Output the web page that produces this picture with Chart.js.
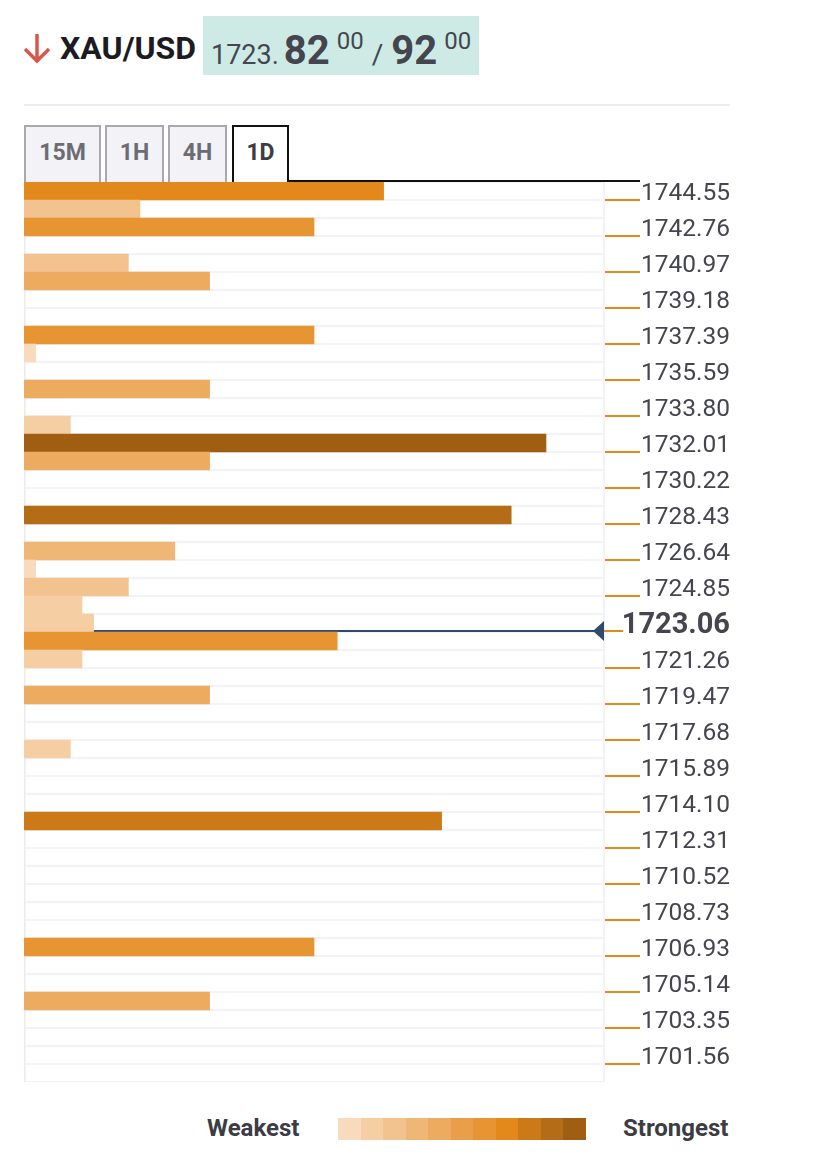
<!DOCTYPE html>
<html>
<head>
<meta charset="utf-8">
<script src="https://cdn.jsdelivr.net/npm/chart.js@4.4.0/dist/chart.umd.min.js"></script>
<style>
  body { margin: 0; width: 829px; height: 1159px; background: #fff; font-family: Roboto, sans-serif; position: relative; overflow: hidden; }
  .arrow { position: absolute; left: 22px; top: 32px; }
  .pair { position: absolute; left: 60px; top: 30px; font-size: 32px; font-weight: bold; color: #1b1b22; line-height: 36px; }
  .quote { position: absolute; left: 203px; top: 16px; width: 276px; height: 59px; background: #cdebe4; }
  .quote .txt { position: absolute; left: 8px; top: 13px; white-space: nowrap; color: #45454f; line-height: 1; }
  .quote .small { font-size: 27px; }
  .quote .big { font-size: 40px; font-weight: bold; }
  .quote .sup { font-size: 24px; vertical-align: 15px; margin-left: 7px; }
  .quote .sep { font-size: 28px; margin: 0 8px 0 8px; }
  .divider { position: absolute; left: 24px; top: 104px; width: 706px; height: 2px; background: #ececf1; }
  .tab { position: absolute; top: 125px; height: 57px; box-sizing: border-box; border: 2px solid #a8a8b0; border-bottom: none;
         background: #f2f2f7; color: #6c6c74; font-size: 23px; font-weight: bold; text-align: center; line-height: 52px; }
  .tab.active { background: #fff; border-color: #111; color: #3c3c44; }
  .tabline { position: absolute; left: 288px; top: 180px; width: 352px; height: 2px; background: #111; }
  #chart-wrap { position: absolute; left: 24px; top: 182px; width: 706px; height: 900px; }
  .legend-label { position: absolute; top: 1114px; font-size: 24px; font-weight: bold; color: #3c3c44; line-height: 28px; }
  .legend-scale { position: absolute; left: 338px; top: 1118px; width: 248px; height: 22px; display: flex; }
  .legend-scale div { flex: 1; }
</style>
</head>
<body>
<svg class="arrow" width="32" height="32" viewBox="0 0 32 32">
  <path d="M15 2 L15 29 M3 17 L15 29 L27 17" fill="none" stroke="#d9574a" stroke-width="3.5"/>
</svg>
<div class="pair">XAU/USD</div>
<div class="quote">
  <div class="txt"><span class="small">1723.</span><span class="big" style="margin-left:5px">82</span><span class="sup">00</span><span class="sep">/</span><span class="big">92</span><span class="sup">00</span></div>
</div>
<div class="divider"></div>
<div class="tab" style="left:24px;width:77px">15M</div>
<div class="tab" style="left:105px;width:59px">1H</div>
<div class="tab" style="left:168px;width:59px">4H</div>
<div class="tab active" style="left:232px;width:57px">1D</div>
<div class="tabline"></div>
<div id="chart-wrap"><canvas id="levels-chart" width="706" height="900"></canvas></div>
<div class="legend-label" style="left:207px">Weakest</div>
<div class="legend-scale" id="legend-scale"></div>
<div class="legend-label" style="left:623px">Strongest</div>
<script>
// Price levels shown on the right (one for every second row)
const priceLevels = [1744.55, 1742.76, 1740.97, 1739.18, 1737.39, 1735.59, 1733.80, 1732.01, 1730.22,
    1728.43, 1726.64, 1724.85, 1723.06, 1721.26, 1719.47, 1717.68, 1715.89, 1714.10, 1712.31,
    1710.52, 1708.73, 1706.93, 1705.14, 1703.35, 1701.56];
const currentPrice = 1723.06;

// Confluence strength per row, top to bottom
const rowStrength = [31, 10, 25, 0, 9, 16, 0, 0, 25, 1,
    0, 16, 0, 4, 45, 16, 0, 0, 42, 0,
    13, 1, 9, 5, 6, 27, 5, 0, 16, 0,
    0, 4, 0, 0, 0, 36, 0, 0, 0, 0,
    0, 0, 25, 0, 0, 16, 0, 0, 0, 0];
const strengthMax = 50;

// Weakest -> strongest
const strengthPalette = ['#f7dbbc', '#f5cfa3', '#f2c38f', '#efb776', '#edab5f', '#e99f4a',
    '#e79533', '#e3891b', '#cc7917', '#b56c17', '#a05e12'];

function colorFor(v) {
    const idx = Math.min(strengthPalette.length - 1, Math.round(v / 4.5));
    return strengthPalette[idx];
}

// legend swatches
const legendEl = document.getElementById('legend-scale');
strengthPalette.forEach(c => {
    const d = document.createElement('div');
    d.style.background = c;
    legendEl.appendChild(d);
});

// each price level labels an even row; its tick sits on that row's lower edge
const rowLabels = rowStrength.map((_, i) => i % 2 === 0 ? priceLevels[i / 2].toFixed(2) : '');
const currentRow = priceLevels.indexOf(currentPrice) * 2;

function priceLineY(scale) {
    const half = (scale.getPixelForValue(1) - scale.getPixelForValue(0)) / 2;
    return scale.getPixelForValue(currentRow) + half - 1;
}

const priceMarker = {
    id: 'priceMarker',
    beforeDatasetsDraw(chart) {
        const { ctx, chartArea, scales } = chart;
        const y = priceLineY(scales.y);
        ctx.save();
        // left frame edge
        ctx.strokeStyle = '#f2f2f7';
        ctx.lineWidth = 2;
        ctx.beginPath();
        ctx.moveTo(chartArea.left + 1, chartArea.top);
        ctx.lineTo(chartArea.left + 1, chartArea.bottom);
        ctx.stroke();
        // current price line
        ctx.strokeStyle = '#2f4a6e';
        ctx.beginPath();
        ctx.moveTo(chartArea.left, y);
        ctx.lineTo(chartArea.right, y);
        ctx.stroke();
        ctx.restore();
    },
    afterDatasetsDraw(chart) {
        const { ctx, chartArea, scales } = chart;
        const y = priceLineY(scales.y);
        ctx.save();
        ctx.fillStyle = '#2f4a6e';
        ctx.beginPath();
        ctx.moveTo(chartArea.right - 11, y);
        ctx.lineTo(chartArea.right, y - 10);
        ctx.lineTo(chartArea.right, y + 10);
        ctx.closePath();
        ctx.fill();
        // short tick for the bold current price label
        ctx.strokeStyle = '#e3891b';
        ctx.lineWidth = 2;
        ctx.beginPath();
        ctx.moveTo(chartArea.right, y);
        ctx.lineTo(chartArea.right + 19, y);
        ctx.stroke();
        ctx.restore();
    }
};

const ctx = document.getElementById('levels-chart').getContext('2d');
const levelsChart = new Chart(ctx, {
    type: 'bar',
    data: {
        labels: rowLabels,
        datasets: [{
            data: rowStrength,
            backgroundColor: rowStrength.map(colorFor),
            borderWidth: 0,
            barPercentage: 1,
            categoryPercentage: 1
        }]
    },
    options: {
        indexAxis: 'y',
        responsive: false,
        animation: false,
        devicePixelRatio: 1,
        layout: { padding: 0 },
        plugins: { legend: { display: false }, tooltip: { enabled: false } },
        scales: {
            x: { display: false, min: 0, max: strengthMax },
            y: {
                position: 'right',
                offset: true,
                afterFit: s => { s.width = 126; s.paddingTop = 0; s.paddingBottom = 0; },
                grid: {
                    color: '#f2f2f7',
                    lineWidth: 2,
                    offset: true,
                    drawTicks: true,
                    tickLength: 36,
                    tickWidth: 2,
                    tickColor: c => (c.index % 2 === 1 && c.index !== currentRow + 1) ? '#e3891b' : 'rgba(0,0,0,0)'
                },
                border: { display: true, color: '#f2f2f7', width: 2 },
                ticks: {
                    autoSkip: false,
                    crossAlign: 'far',
                    padding: 0,
                    labelOffset: 2.5,
                    color: '#45454f',
                    font: c => c.index === currentRow
                        ? { family: 'Roboto', size: 29, weight: 'bold' }
                        : { family: 'Roboto', size: 24.5 }
                }
            }
        }
    },
    plugins: [priceMarker]
});
</script>
</body>
</html>
